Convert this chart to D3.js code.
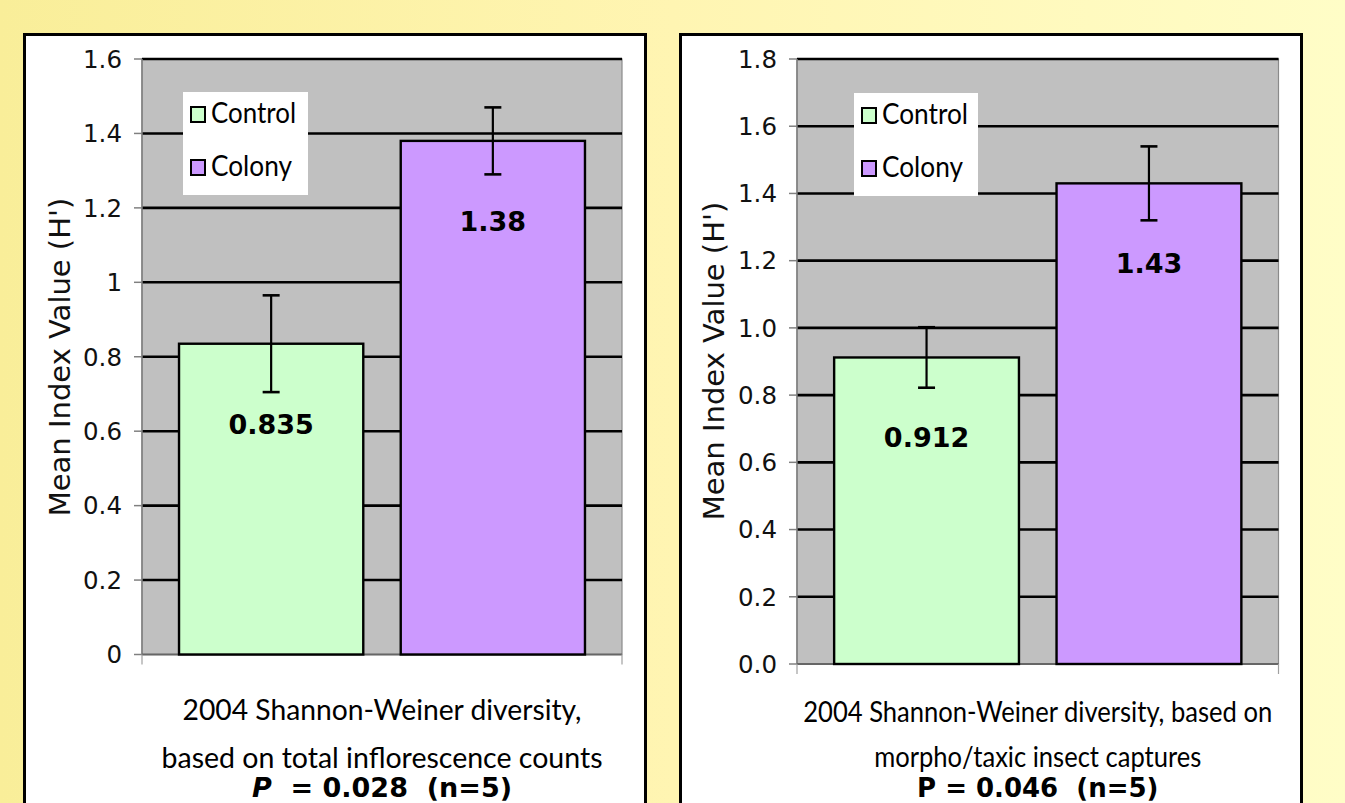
<!DOCTYPE html>
<html><head><meta charset="utf-8">
<script src="https://cdn.jsdelivr.net/npm/d3@7"></script>
<style>html,body{margin:0;padding:0;overflow:hidden;background:#fff;} svg{display:block}</style>
</head><body>
<svg id="chart" width="1345" height="803"></svg>
<script>
// ---------- DATA ----------
const seriesNames = ["Control", "Colony"];

const leftMeans = [0.835, 1.38];
const leftErrors = [0.13, 0.09];
const leftValueLabels = ["0.835", "1.38"];
const leftTickValues = [0, 0.2, 0.4, 0.6, 0.8, 1.0, 1.2, 1.4, 1.6];
const leftTickLabels = ["0", "0.2", "0.4", "0.6", "0.8", "1", "1.2", "1.4", "1.6"];
const leftCaption = ["2004 Shannon-Weiner diversity,", "based on total inflorescence counts"];
const leftStat = ["P", "  = 0.028  (n=5)"];

const rightMeans = [0.912, 1.43];
const rightErrors = [0.09, 0.11];
const rightValueLabels = ["0.912", "1.43"];
const rightTickValues = [0, 0.2, 0.4, 0.6, 0.8, 1.0, 1.2, 1.4, 1.6, 1.8];
const rightTickLabels = ["0.0", "0.2", "0.4", "0.6", "0.8", "1.0", "1.2", "1.4", "1.6", "1.8"];
const rightCaption = ["2004 Shannon-Weiner diversity, based on", "morpho/taxic insect captures"];
const rightStat = ["P", " = 0.046  (n=5)"];

const yTitle = "Mean Index Value (H')";

// ---------- STYLE ----------
const seriesColors = ["#ccffcc", "#cc99ff"];
const HAND = "Lato, 'Open Sans', sans-serif";
const SANS = "'DejaVu Sans', Verdana, sans-serif";

const svg = d3.select("#chart");
const defs = svg.append("defs");
const grad = defs.append("linearGradient").attr("id", "bg").attr("x1", "0").attr("x2", "1").attr("y1", "0").attr("y2", "0");
grad.append("stop").attr("offset", "0").attr("stop-color", "#f9ee99");
grad.append("stop").attr("offset", "0.5").attr("stop-color", "#fff5b2");
grad.append("stop").attr("offset", "1").attr("stop-color", "#fffdc7");
svg.append("rect").attr("width", 1345).attr("height", 803).attr("fill", "url(#bg)");

function drawPanel(L, means, errors, valueLabels, tickValues, tickLabels, caption, stat) {
  const g = svg.append("g");
  // panel frame
  g.append("rect")
    .attr("x", L.box[0]).attr("y", L.box[1])
    .attr("width", L.box[2] - L.box[0]).attr("height", 900)
    .attr("fill", "#fff").attr("stroke", "#000").attr("stroke-width", 3);

  const y = d3.scaleLinear().domain([0, tickValues[tickValues.length - 1]]).range([L.plot[3], L.plot[1]]);
  const x = d3.scaleBand().domain(seriesNames).range([L.plot[0], L.plot[2]])
    .paddingInner(0.169).paddingOuter(0.167);

  // plot area
  g.append("rect")
    .attr("x", L.plot[0]).attr("y", L.plot[1])
    .attr("width", L.plot[2] - L.plot[0]).attr("height", L.plot[3] - L.plot[1])
    .attr("fill", "#c0c0c0").attr("stroke", "#8a8a8a").attr("stroke-width", 1.2);

  // gridlines
  g.selectAll(".grid").data(tickValues.filter(v => v > 0)).enter().append("line")
    .attr("x1", L.plot[0]).attr("x2", L.plot[2])
    .attr("y1", d => y(d)).attr("y2", d => y(d))
    .attr("stroke", "#000").attr("stroke-width", 2.6);

  // y axis line + ticks
  g.append("line").attr("x1", L.plot[0]).attr("x2", L.plot[0])
    .attr("y1", L.plot[1]).attr("y2", L.plot[3])
    .attr("stroke", "#808080").attr("stroke-width", 1.5);
  g.selectAll(".tk").data(tickValues).enter().append("line")
    .attr("x1", L.plot[0] - 8).attr("x2", L.plot[0])
    .attr("y1", d => y(d)).attr("y2", d => y(d))
    .attr("stroke", "#808080").attr("stroke-width", 1.5);
  g.selectAll(".tl").data(tickValues).enter().append("text")
    .attr("x", L.plot[0] - 20).attr("y", d => y(d)).attr("dy", "0.36em")
    .attr("text-anchor", "end")
    .attr("font-family", SANS).attr("font-size", 24.5).attr("fill", "#111")
    .text((d, i) => tickLabels[i]);

  // x axis
  g.append("line").attr("x1", L.plot[0]).attr("x2", L.plot[2])
    .attr("y1", L.plot[3]).attr("y2", L.plot[3])
    .attr("stroke", "#666").attr("stroke-width", 2);
  [L.plot[0], L.plot[2]].forEach(px => {
    g.append("line").attr("x1", px).attr("x2", px)
      .attr("y1", L.plot[3]).attr("y2", L.plot[3] + 10)
      .attr("stroke", "#a0a0a0").attr("stroke-width", 1.2);
  });

  // bars
  g.selectAll(".bar").data(means).enter().append("rect")
    .attr("x", (d, i) => x(seriesNames[i]))
    .attr("width", x.bandwidth())
    .attr("y", d => y(d))
    .attr("height", d => y(0) - y(d))
    .attr("fill", (d, i) => seriesColors[i])
    .attr("stroke", "#000").attr("stroke-width", 2.4);

  // error bars + value labels
  means.forEach((m, i) => {
    const cx = x(seriesNames[i]) + x.bandwidth() / 2;
    const e = errors[i];
    g.append("line").attr("x1", cx).attr("x2", cx).attr("y1", y(m + e)).attr("y2", y(m - e))
      .attr("stroke", "#000").attr("stroke-width", 2.2);
    [m + e, m - e].forEach(v => {
      g.append("line").attr("x1", cx - 8.5).attr("x2", cx + 8.5).attr("y1", y(v)).attr("y2", y(v))
        .attr("stroke", "#000").attr("stroke-width", 2.6);
    });
    g.append("text").attr("x", cx).attr("y", y(m) + 90)
      .attr("text-anchor", "middle")
      .attr("font-family", SANS).attr("font-weight", "bold").attr("font-size", 27)
      .attr("fill", "#000").text(valueLabels[i]);
  });

  // legend
  const lg = g.append("g");
  lg.append("rect").attr("x", L.legend[0]).attr("y", L.legend[1])
    .attr("width", L.legend[2] - L.legend[0]).attr("height", L.legend[3] - L.legend[1])
    .attr("fill", "#fff");
  seriesNames.forEach((s, i) => {
    const by = L.legend[1] + 15 + i * 53;
    lg.append("rect").attr("x", L.legend[0] + 8).attr("y", by)
      .attr("width", 14).attr("height", 15)
      .attr("fill", seriesColors[i]).attr("stroke", "#000").attr("stroke-width", 2);
    lg.append("text").attr("x", L.legend[0] + 28).attr("y", by + 16)
      .attr("font-family", HAND).attr("font-size", 28).attr("fill", "#000")
      .attr("textLength", L.legendW[i]).attr("lengthAdjust", "spacingAndGlyphs")
      .text(s);
  });

  // y title
  g.append("text")
    .attr("transform", `translate(${L.title[0]},${L.title[1]}) rotate(-90)`)
    .attr("text-anchor", "middle")
    .attr("font-family", SANS).attr("font-size", 29).attr("fill", "#111")
    .text(yTitle);

  // caption
  const cx = (L.plot[0] + L.plot[2]) / 2;
  caption.forEach((c, i) => {
    g.append("text").attr("x", cx).attr("y", L.capY[i])
      .attr("text-anchor", "middle")
      .attr("font-family", HAND).attr("font-size", 28).attr("fill", "#000")
      .attr("textLength", L.capW[i]).attr("lengthAdjust", "spacingAndGlyphs")
      .text(c);
  });
  const st = g.append("text").attr("x", cx).attr("y", L.capY[2])
    .attr("text-anchor", "middle").style("white-space", "pre")
    .attr("font-family", SANS).attr("font-weight", "bold").attr("font-size", L.statSize).attr("fill", "#000");
  st.append("tspan").attr("font-style", L.italicP ? "italic" : "normal").text(stat[0]);
  st.append("tspan").text(stat[1]);
}

drawPanel({
  box: [24.5, 34.5, 645.5],
  plot: [142, 59, 622, 654.5],
  legend: [183, 92, 308, 195],
  legendW: [85, 81],
  title: [70, 357],
  capY: [720, 768, 797],
  capW: [399, 441],
  statSize: 27,
  italicP: true
}, leftMeans, leftErrors, leftValueLabels, leftTickValues, leftTickLabels, leftCaption, leftStat);

drawPanel({
  box: [680.5, 34.5, 1301.5],
  plot: [797, 59, 1278.5, 664],
  legend: [854, 93, 978, 196],
  legendW: [86, 81],
  title: [724, 361],
  capY: [722, 767, 797],
  capW: [469, 327],
  statSize: 26,
  italicP: false
}, rightMeans, rightErrors, rightValueLabels, rightTickValues, rightTickLabels, rightCaption, rightStat);
</script>
</body></html>
